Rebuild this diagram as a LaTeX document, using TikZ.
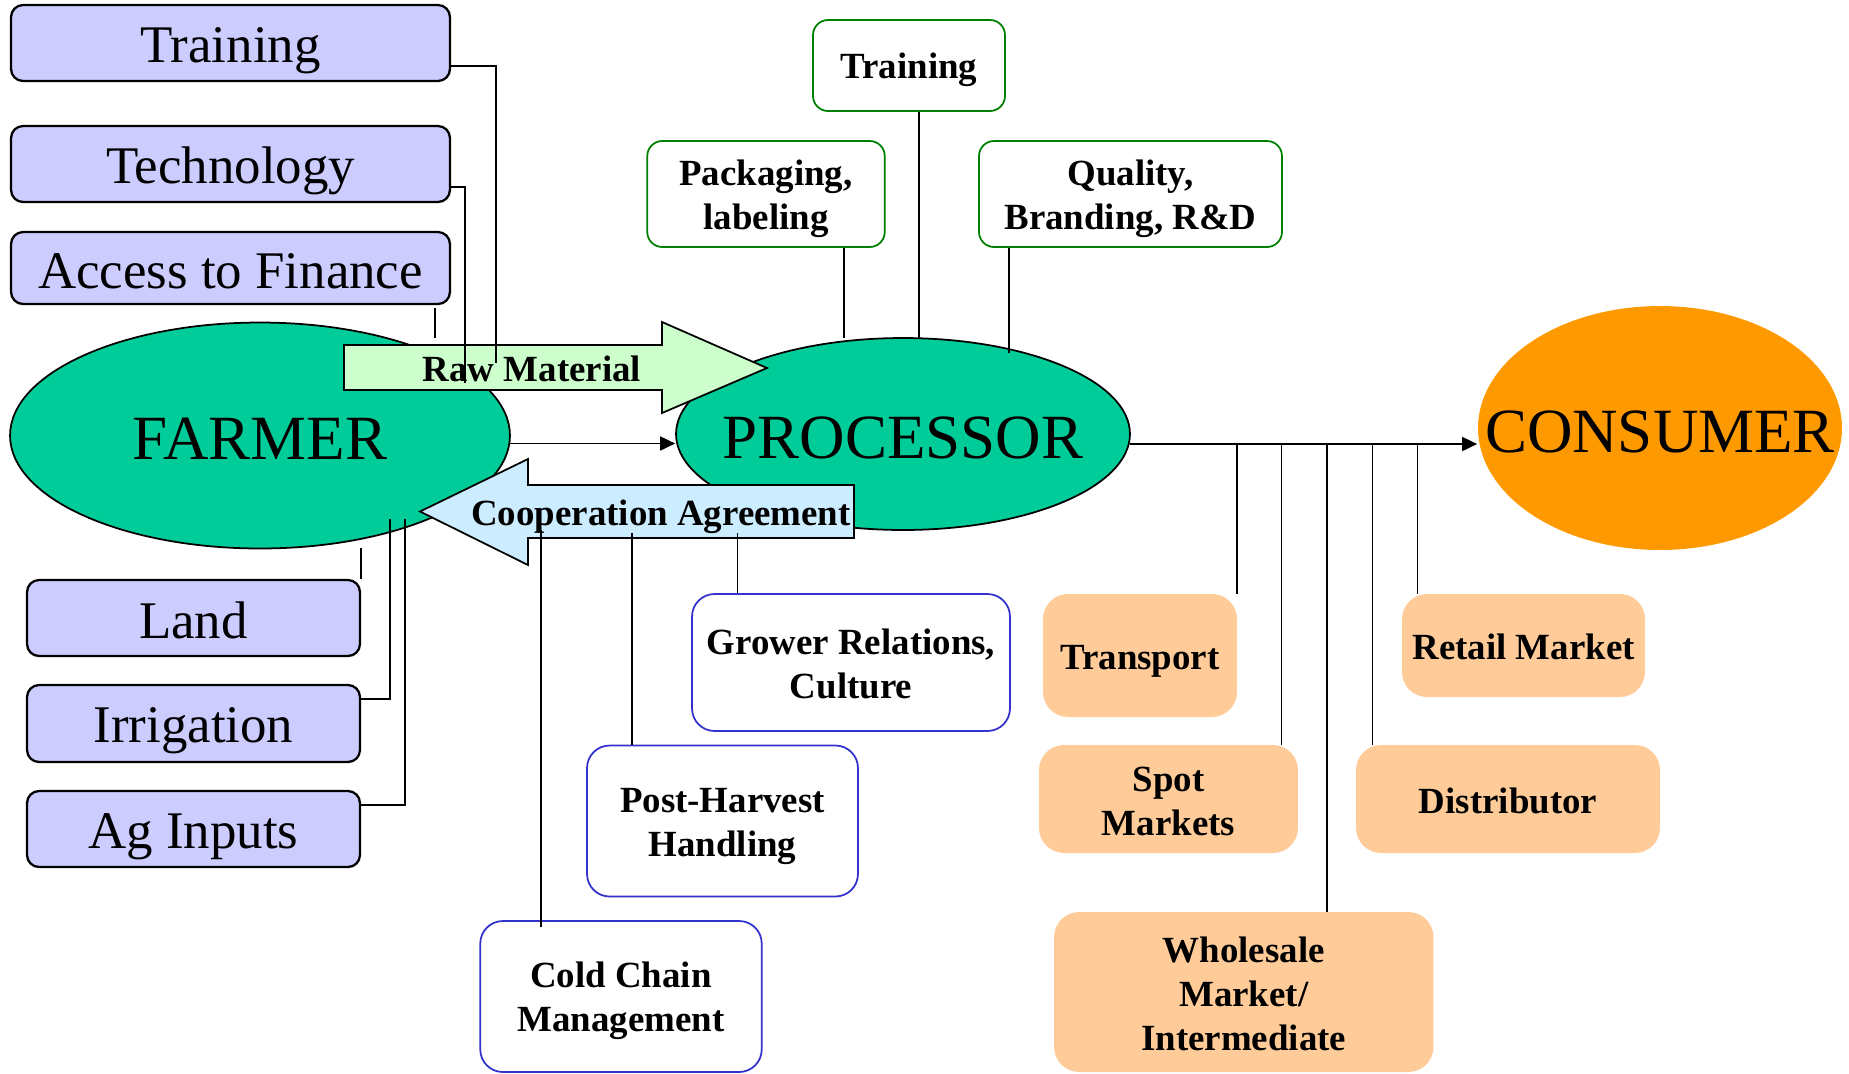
\documentclass[tikz,border=0pt]{standalone}
\usepackage{fontspec}
\setmainfont{Liberation Serif}
\usetikzlibrary{shapes.geometric,arrows.meta}
\definecolor{lav}{HTML}{CCCCFF}
\definecolor{teal1}{HTML}{00CC99}
\definecolor{orng}{HTML}{FF9900}
\definecolor{peach}{HTML}{FFCC99}
\definecolor{rawg}{HTML}{CCFFCC}
\definecolor{coopb}{HTML}{CCECFF}
\definecolor{grn}{HTML}{008000}
\definecolor{blu}{HTML}{3333CC}
\newcommand{\ps}{\rule[-0.185em]{0pt}{1.135em}}
\newcommand{\bigfont}{\fontsize{35.85}{40}\selectfont}
\newcommand{\lfont}{\fontsize{30.1}{34}\selectfont}
\newcommand{\bfont}{\fontsize{21}{25.05}\selectfont\bfseries}
\begin{document}
\begin{tikzpicture}[x=0.02cm,y=-0.02cm,
  lbox/.style={draw=black,line width=1.3pt,fill=lav,rounded corners=0.24cm,inner sep=0pt,font=\lfont},
  gbox/.style={draw=grn,line width=1.0pt,fill=white,rounded corners=0.3cm,inner sep=0pt,align=center,font=\bfont},
  bbox/.style={draw=blu,line width=1.0pt,fill=white,rounded corners=0.45cm,inner sep=0pt,align=center,font=\bfont},
  obox/.style={fill=peach,rounded corners=0.5cm,inner sep=0pt,align=center,font=\bfont},
  actor/.style={ellipse,draw=black,line width=1.0pt,fill=teal1,inner sep=0pt,font=\bigfont},
  conn/.style={line width=1.0pt},
  arr/.style={conn,-{Triangle[length=0.30cm,width=0.28cm]}},
  bigarrow/.style={draw=black,line width=1.0pt},
  arrtext/.style={font=\bfont,anchor=base,inner sep=0pt}
]
\useasboundingbox (0,0) rectangle (1849,1073);

% main actors
\node[actor,minimum width=10cm,minimum height=4.52cm] (farmer) at (260,435.5) {\makebox[0pt]{\ps FARMER}};
\node[actor,minimum width=9.08cm,minimum height=3.84cm] (proc) at (903,434) {\makebox[0pt]{\ps PROCESSOR}};
\node[actor,draw=none,fill=orng,minimum width=7.28cm,minimum height=4.88cm] (cons) at (1660,428) {\makebox[0pt]{\ps CONSUMER}};

% farmer inputs
\node[lbox,minimum width=8.78cm,minimum height=1.52cm] (ltrain) at (230.5,43) {\ps Training};
\node[lbox,minimum width=8.78cm,minimum height=1.52cm] (ltech) at (230.5,164) {\ps Technology};
\node[lbox,minimum width=8.78cm,minimum height=1.44cm] (lfin) at (230.5,268) {\ps Access to Finance};
\node[lbox,minimum width=6.66cm,minimum height=1.52cm] (land) at (193.5,618) {\ps Land};
\node[lbox,minimum width=6.66cm,minimum height=1.54cm] (irr) at (193.5,723.5) {\ps Irrigation};
\node[lbox,minimum width=6.66cm,minimum height=1.52cm] (ag) at (193.5,829) {\ps Ag Inputs};

% processor inputs
\node[gbox,minimum width=3.84cm,minimum height=1.82cm] (gtrain) at (909,65.5) {\ps Training};
\node[gbox,minimum width=4.75cm,minimum height=2.12cm] (pack) at (766,194) {\ps Packaging,\\\ps labeling};
\node[gbox,minimum width=6.06cm,minimum height=2.12cm] (qual) at (1130.5,194) {\ps Quality,\\\ps Branding, R\&D};

% cooperation items
\node[bbox,minimum width=6.36cm,minimum height=2.74cm] (grow) at (851,662.5) {\ps Grower Relations,\\\ps Culture};
\node[bbox,minimum width=5.42cm,minimum height=3.02cm] (post) at (722.5,821) {\ps Post-Harvest\\\ps Handling};
\node[bbox,minimum width=5.63cm,minimum height=3.02cm] (cold) at (621,996.5) {\ps Cold Chain\\\ps Management};

% channels
\node[obox,minimum width=3.88cm,minimum height=2.46cm] (trans) at (1140,655.5) {\ps Transport};
\node[obox,minimum width=4.86cm,minimum height=2.06cm] (retail) at (1523.5,645.5) {\ps Retail Market};
\node[obox,minimum width=5.18cm,minimum height=2.16cm] (spot) at (1168.5,799) {\ps Spot\\\ps Markets};
\node[obox,minimum width=6.08cm,minimum height=2.16cm] (dist) at (1508,799) {\ps Distributor};
\node[obox,minimum width=7.59cm,minimum height=3.2cm] (whole) at (1243.75,992) {\ps Wholesale\\\ps Market/\\\ps Intermediate};

% big arrows
\draw[bigarrow,fill=rawg] (344,345) -- (662,345) -- (662,322) -- (767,368) -- (662,413) -- (662,390) -- (344,390) -- cycle;
\draw[bigarrow,fill=coopb] (854,485) -- (528,485) -- (528,459) -- (420,511.5) -- (528,565) -- (528,538) -- (854,538) -- cycle;

% farmer input connectors
\draw[conn] (ltrain.south east) ++(0,-16) -| (496,363);
\draw[conn] (ltech.south east) ++(0,-16) -| (465,383);
\draw[conn] (435,0 |- lfin.south) ++(0,3) -- ++(0,30);
\draw[conn] (land.north east) -- ++(0,-31);
\draw[conn] (irr.north east) ++(0,15) -| (390,519);
\draw[conn] (ag.north east) ++(0,15) -| (405,519);

% processor input connectors
\draw[conn] (844,0 |- pack.south) -- (844,338);
\draw[conn] (919,0 |- gtrain.south) -- (919,338);
\draw[conn] (1009,0 |- qual.south) -- (1009,353);

% cooperation connectors
\draw[conn] (541,530) -- (541,927);
\draw[conn] (632,533) -- (632,0 |- post.north);
\draw[conn] (737.5,533) -- (737.5,0 |- grow.north);

% flows
\coordinate (fa) at (510,443.5);
\draw[arr] (fa) -- (fa -| proc.west);
\coordinate (pe) at (1130,444);
\draw[arr] (pe) -- (pe -| cons.west);
\draw[conn] (trans.north east |- pe) -- (trans.north east);
\draw[conn] (1281.5,444) -- (1281.5,0 |- spot.north);
\draw[conn] (1327,444) -- (1327,0 |- whole.north);
\draw[conn] (1372.5,444) -- (1372.5,0 |- dist.north);
\draw[conn] (1417.5,444) -- (1417.5,0 |- retail.north);

% arrow labels
\node[arrtext] (rawt) at (532,381.5) {Raw Material};
\node[arrtext] (coopt) at (661,525.5) {Cooperation Agreement};
\end{tikzpicture}
\end{document}
